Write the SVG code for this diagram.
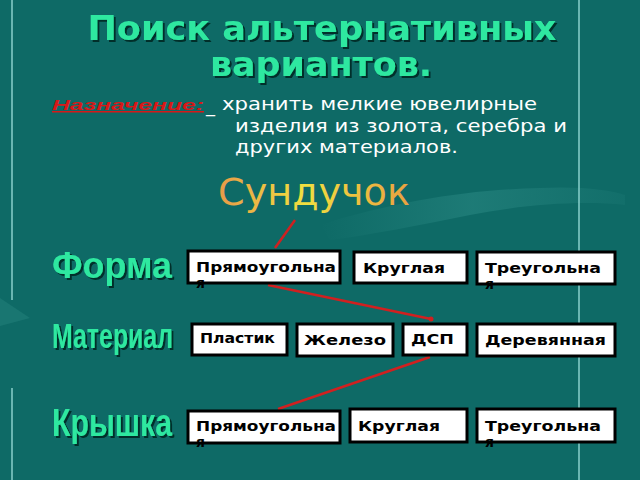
<svg xmlns="http://www.w3.org/2000/svg" width="640" height="480" viewBox="0 0 640 480">
<defs>
<linearGradient id="sg" x1="0" y1="0" x2="1" y2="0">
<stop offset="0" stop-color="#e89a48"/>
<stop offset="0.45" stop-color="#f0e040"/>
<stop offset="1" stop-color="#eaa040"/>
</linearGradient>
<linearGradient id="sw" x1="0" y1="0" x2="1" y2="0">
<stop offset="0" stop-color="#3a9a94" stop-opacity="0"/>
<stop offset="0.5" stop-color="#3a9a94" stop-opacity="0.35"/>
<stop offset="1" stop-color="#3a9a94" stop-opacity="0.1"/>
</linearGradient>
<filter id="sh" x="-10%" y="-20%" width="120%" height="150%">
<feDropShadow dx="2" dy="2" stdDeviation="0.6" flood-color="#062624" flood-opacity="0.9"/>
</filter>
<style>
.bx{fill:#ffffff;stroke:#000000;stroke-width:3}
.bt{font-family:"DejaVu Sans",sans-serif;font-weight:bold;font-size:14px;fill:#000}
.ttl{font-family:"DejaVu Sans",sans-serif;font-weight:bold;font-size:34px;fill:#2ee8a0}
.lbl{font-family:"Liberation Sans",sans-serif;font-weight:bold;fill:#2ee8a0}
.wt{font-family:"DejaVu Sans",sans-serif;font-size:18px;fill:#ffffff}
.rl{stroke:#d02020;stroke-width:2.5;fill:none}
</style>
</defs>
<rect x="0" y="0" width="640" height="480" fill="#0e6a66"/>
<path d="M320 225 C400 200 470 190 540 188 C580 186 610 190 625 195 L625 205 C580 200 520 205 470 215 C420 225 370 235 330 240 Z" fill="url(#sw)"/>
<path d="M0 298 L30 318 L0 326 Z" fill="#3a9a94" opacity="0.25"/>
<line x1="12" y1="0" x2="12" y2="300" stroke="#8ad0cc" stroke-width="1.5"/>
<line x1="12" y1="388" x2="12" y2="480" stroke="#8ad0cc" stroke-width="1.5"/>
<line x1="579" y1="0" x2="579" y2="480" stroke="#8ad0cc" stroke-width="1.5"/>

<g id="title" filter="url(#sh)">
<text class="ttl" x="322" y="40" text-anchor="middle" textLength="469" lengthAdjust="spacingAndGlyphs">Поиск альтернативных</text>
<text class="ttl" x="321" y="76" text-anchor="middle" textLength="222" lengthAdjust="spacingAndGlyphs">вариантов.</text>
</g>

<g id="purpose">
<text x="52" y="110" font-family="Liberation Sans,sans-serif" font-weight="bold" font-style="italic" font-size="15" fill="#d81818" text-decoration="underline" textLength="152" lengthAdjust="spacingAndGlyphs">Назначение:</text>
<text x="206" y="112" class="wt">_</text>
<text x="222" y="110" class="wt" textLength="315" lengthAdjust="spacingAndGlyphs">хранить мелкие ювелирные</text>
<text x="235" y="132" class="wt" textLength="332" lengthAdjust="spacingAndGlyphs">изделия из золота, серебра и</text>
<text x="235" y="153" class="wt" textLength="223" lengthAdjust="spacingAndGlyphs">других материалов.</text>
</g>

<g id="root">
<text x="218" y="205" font-family="DejaVu Sans,sans-serif" font-size="37" fill="url(#sg)" textLength="192" lengthAdjust="spacingAndGlyphs">Сундучок</text>
</g>

<g id="labels" filter="url(#sh)">
<text class="lbl" x="52" y="278" font-size="36" textLength="120" lengthAdjust="spacingAndGlyphs">Форма</text>
<text class="lbl" x="52" y="348" font-size="35" textLength="121" lengthAdjust="spacingAndGlyphs">Материал</text>
<text class="lbl" x="52" y="436" font-size="39" textLength="120" lengthAdjust="spacingAndGlyphs">Крышка</text>
</g>

<g id="connectors">
<line class="rl" x1="295" y1="220" x2="275" y2="248"/>
<line class="rl" x1="268" y1="285" x2="431" y2="319"/>
<circle cx="431" cy="319" r="2.5" fill="#d02020"/>
<line class="rl" x1="430" y1="357" x2="278" y2="409"/>
</g>

<g id="f1"><rect class="bx" x="188" y="251" width="152" height="32"/><text class="bt" x="196" y="272" textLength="140" lengthAdjust="spacingAndGlyphs">Прямоугольна</text><text class="bt" x="196" y="288">я</text></g>
<g id="f2"><rect class="bx" x="354" y="252" width="113" height="31"/><text class="bt" x="363" y="273" textLength="82" lengthAdjust="spacingAndGlyphs">Круглая</text></g>
<g id="f3"><rect class="bx" x="477" y="252" width="138" height="32"/><text class="bt" x="485" y="273" textLength="116" lengthAdjust="spacingAndGlyphs">Треугольна</text><text class="bt" x="485" y="289">я</text></g>

<g id="m1"><rect class="bx" x="192" y="324" width="95" height="31"/><text class="bt" x="200" y="343" textLength="75" lengthAdjust="spacingAndGlyphs">Пластик</text></g>
<g id="m2"><rect class="bx" x="297" y="324" width="96" height="32"/><text class="bt" x="304" y="345" textLength="82" lengthAdjust="spacingAndGlyphs">Железо</text></g>
<g id="m3"><rect class="bx" x="403" y="324" width="64" height="31"/><text class="bt" x="411" y="344" textLength="43" lengthAdjust="spacingAndGlyphs">ДСП</text></g>
<g id="m4"><rect class="bx" x="477" y="324" width="138" height="32"/><text class="bt" x="485" y="345" textLength="121" lengthAdjust="spacingAndGlyphs">Деревянная</text></g>

<g id="k1"><rect class="bx" x="188" y="411" width="152" height="32"/><text class="bt" x="196" y="431" textLength="140" lengthAdjust="spacingAndGlyphs">Прямоугольна</text><text class="bt" x="196" y="447">я</text></g>
<g id="k2"><rect class="bx" x="350" y="409" width="117" height="33"/><text class="bt" x="358" y="431" textLength="82" lengthAdjust="spacingAndGlyphs">Круглая</text></g>
<g id="k3"><rect class="bx" x="477" y="409" width="138" height="33"/><text class="bt" x="485" y="431" textLength="116" lengthAdjust="spacingAndGlyphs">Треугольна</text><text class="bt" x="485" y="447">я</text></g>
</svg>
